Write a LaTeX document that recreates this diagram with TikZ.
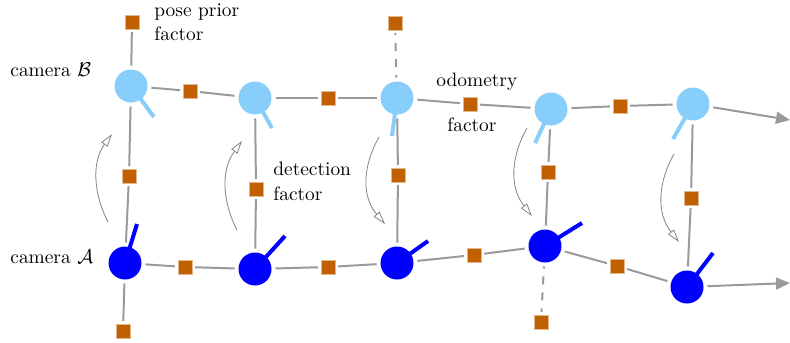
\documentclass[tikz,border=0pt]{standalone}
\usepackage{amsmath}
\usepackage{amssymb}
\usetikzlibrary{arrows.meta}

\definecolor{camB}{RGB}{135,206,250}
\definecolor{camA}{RGB}{0,0,255}
\definecolor{fac}{RGB}{192,96,0}
\definecolor{edgegray}{RGB}{154,154,154}

\tikzset{
    camb/.style={circle, fill=camB, minimum size=16.5pt, inner sep=0pt, outer sep=2pt},
    cama/.style={circle, fill=camA, minimum size=16.5pt, inner sep=0pt, outer sep=2pt},
    factor/.style={rectangle, fill=fac, draw=fac!45!white, line width=0.3pt, minimum size=7pt, inner sep=0pt, outer sep=1.5pt},
    link/.style={edgegray, line width=1pt},
    dlink/.style={link, dash pattern=on 4pt off 4pt, dash phase=3pt},
    bstick/.style={camB, line width=2pt},
    astick/.style={camA, line width=2pt},
    hint/.style={edgegray!85!black, line width=0.4pt, -{Triangle[open,length=6.5pt,width=3.8pt]}},
    lab/.style={anchor=base west, inner sep=0pt, align=left, font=\fontsize{9.7}{12.2}\selectfont}
}

\begin{document}
\begin{tikzpicture}[x=0.5pt, y=-0.5pt]
    \useasboundingbox (0,0) rectangle (790,342);

    % camera B chain
    \node[camb] (B1) at (131,86) {};
    \node[camb] (B2) at (255,98) {};
    \node[camb] (B3) at (397,98) {};
    \node[camb] (B4) at (551,109) {};
    \node[camb] (B5) at (693,104) {};
    \draw[bstick] (B1.center) -- +(23,31);
    \draw[bstick] (B2.center) -- +(17,30);
    \draw[bstick] (B3.center) -- +(-5,38);
    \draw[bstick] (B4.center) -- +(-16,34);
    \draw[bstick] (B5.center) -- +(-20,35);

    % camera A chain
    \node[cama] (A1) at (125,263) {};
    \node[cama] (A2) at (255,269) {};
    \node[cama] (A3) at (397,263) {};
    \node[cama] (A4) at (545,246) {};
    \node[cama] (A5) at (687,287) {};
    \draw[astick] (A1.center) -- +(12,-39);
    \draw[astick] (A2.center) -- +(30,-33);
    \draw[astick] (A3.center) -- +(31,-22);
    \draw[astick] (A4.center) -- +(37,-23);
    \draw[astick] (A5.center) -- +(26,-34);

    % factors
    \node[factor] (pB) at (132,22) {};
    \node[factor] (oB12) at (190,91) {};
    \node[factor] (oB23) at (328,98) {};
    \node[factor] (pB3) at (395,23) {};
    \node[factor] (oB34) at (470,104) {};
    \node[factor] (oB45) at (620,106) {};
    \node[factor] (d1) at (129,176) {};
    \node[factor] (d2) at (256,189) {};
    \node[factor] (d3) at (398,175) {};
    \node[factor] (d4) at (548,172) {};
    \node[factor] (d5) at (691,198) {};
    \node[factor] (pA) at (123,331) {};
    \node[factor] (oA12) at (185,267) {};
    \node[factor] (oA23) at (328,267) {};
    \node[factor] (oA34) at (474,255) {};
    \node[factor] (oA45) at (617,266) {};
    \node[factor] (pA4) at (541,322) {};

    \coordinate (endB) at (790,120);
    \coordinate (endA) at (790,283);

    \draw[link] (pB) -- (B1);
    \draw[link] (B1) -- (oB12) -- (B2);
    \draw[link] (B2) -- (oB23) -- (B3);
    \draw[dlink] (pB3) -- (B3);
    \draw[link] (B3) -- (oB34) -- (B4);
    \draw[link] (B4) -- (oB45) -- (B5);
    \draw[link, -{Triangle[length=7pt,width=6pt]}] (B5) -- (endB);

    \draw[link] (B1) -- (d1) -- (A1);
    \draw[link] (B2) -- (d2) -- (A2);
    \draw[link] (B3) -- (d3) -- (A3);
    \draw[link] (B4) -- (d4) -- (A4);
    \draw[link] (B5) -- (d5) -- (A5);

    \draw[link] (A1) -- (pA);
    \draw[link] (A1) -- (oA12) -- (A2);
    \draw[link] (A2) -- (oA23) -- (A3);
    \draw[link] (A3) -- (oA34) -- (A4);
    \draw[dlink] (A4) -- (pA4);
    \draw[link] (A4) -- (oA45) -- (A5);
    \draw[link, -{Triangle[length=7pt,width=6pt]}] (A5) -- (endA);

    \draw[hint] (108,222) .. controls (94,195) and (91,163) .. (112,134);
    \draw[hint] (237,230) .. controls (223,203) and (220,171) .. (242,141);
    \draw[hint] (379,137) .. controls (363,165) and (361,196) .. (385,224);
    \draw[hint] (527,128) .. controls (511,156) and (509,187) .. (532,216);
    \draw[hint] (674,154) .. controls (658,182) and (656,213) .. (679,242);

    \node[lab] (tB) at (10,76) {camera $\mathcal{B}$};
    \node[lab] (tA) at (10,263) {camera $\mathcal{A}$};
    \node[lab] (tprior) at (154,41) {pose prior\\factor};
    \node[lab] (tdet) at (273,200) {detection\\factor};
    \node[lab] (todo) at (436,87) {odometry};
    \node[lab] (tfac) at (447,131) {factor};
\end{tikzpicture}
\end{document}
